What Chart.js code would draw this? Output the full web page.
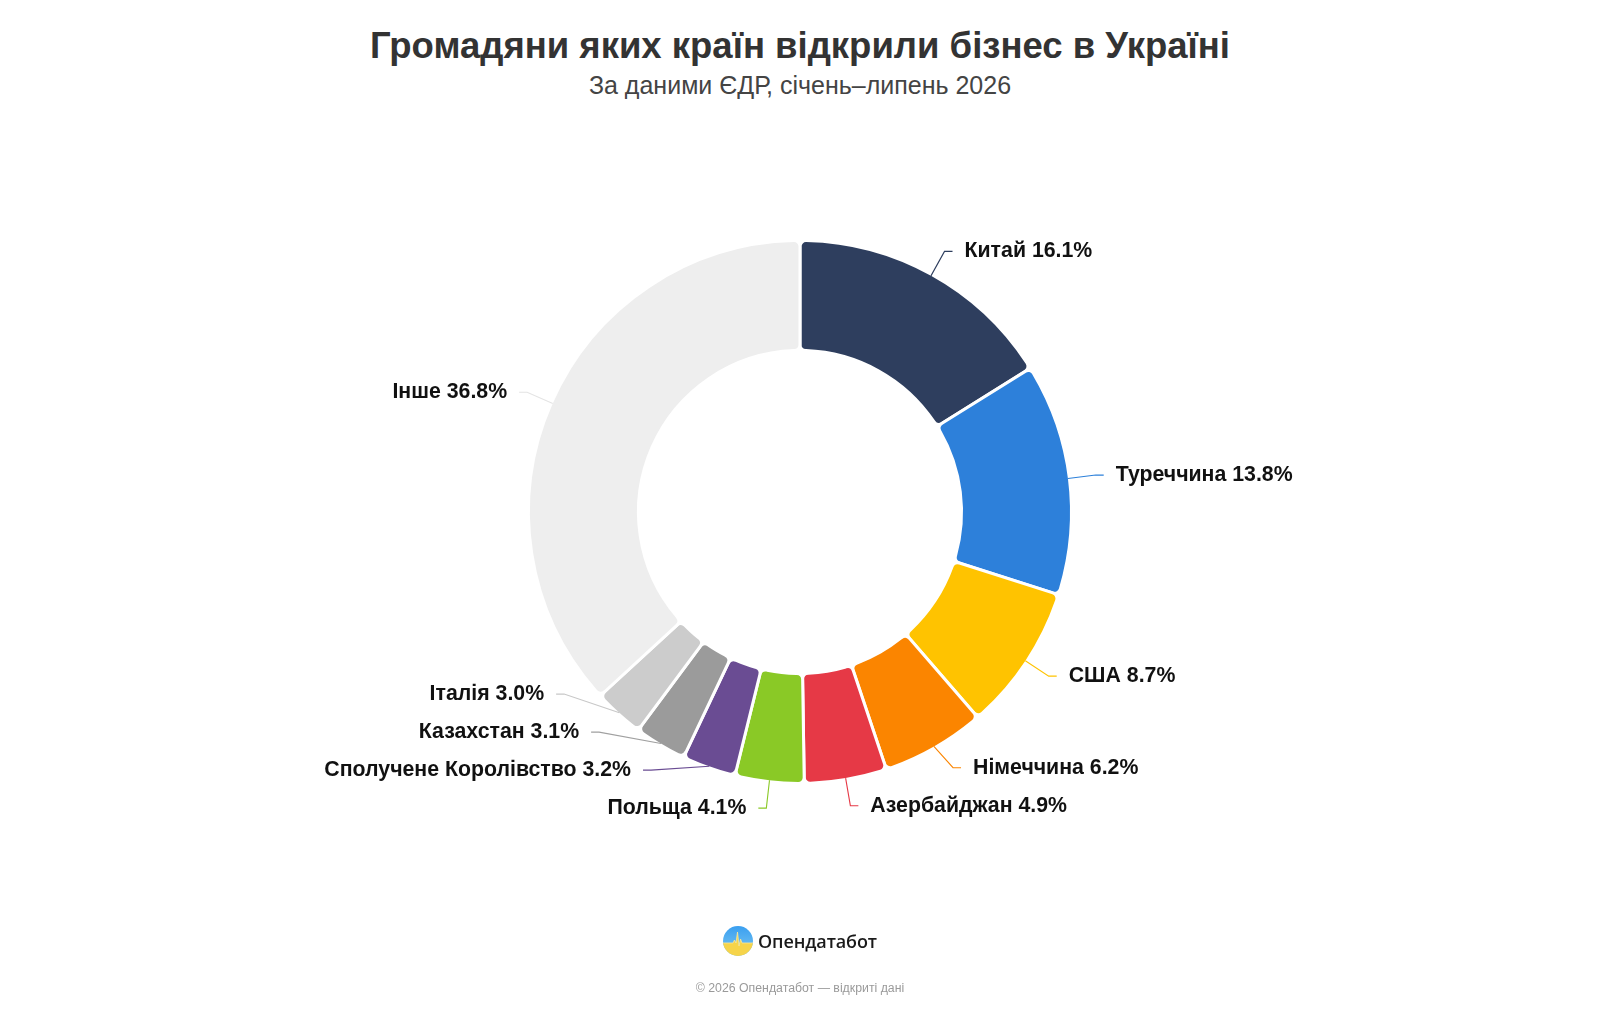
<!DOCTYPE html>
<html lang="uk">
<head>
<meta charset="utf-8">
<title>Громадяни яких країн відкрили бізнес в Україні</title>
<script src="https://cdn.jsdelivr.net/npm/chart.js@4.4.1/dist/chart.umd.min.js"></script>
<style>
  html, body { margin: 0; padding: 0; background: #fff; }
  body {
    width: 1600px; height: 1013px; position: relative; overflow: hidden;
    font-family: "Liberation Sans", Arial, Helvetica, sans-serif;
  }
  .title {
    position: absolute; top: 25px; left: 0; width: 100%;
    text-align: center; font-size: 36.5px; line-height: 42px; font-weight: bold; color: #333;
  }
  .subtitle {
    position: absolute; top: 70px; left: 0; width: 100%;
    text-align: center; font-size: 25px; line-height: 30px; color: #444;
  }
  .chart-wrap { position: absolute; left: 0; top: 0; width: 1600px; height: 1013px; }
  .brand {
    position: absolute; top: 926px; left: 0; width: 100%;
    display: flex; justify-content: center; align-items: center; gap: 5px;
  }
  .brand span {
    font-family: "Open Sans", "Noto Sans", sans-serif; font-weight: 600;
    font-size: 18px; color: #1a1a1a; letter-spacing: -0.1px;
  }
  .copy {
    position: absolute; top: 981px; left: 0; width: 100%;
    text-align: center; font-size: 12.3px; color: #9a9a9a;
  }
</style>
</head>
<body>
<div class="title">Громадяни яких країн відкрили бізнес в Україні</div>
<div class="subtitle">За даними ЄДР, січень–липень 2026</div>
<div class="chart-wrap"><canvas id="donut"></canvas></div>
<div class="brand">
  <svg width="30" height="30" viewBox="0 0 30 30">
    <defs>
      <clipPath id="c"><circle cx="15" cy="15" r="15"/></clipPath>
      <linearGradient id="sky" x1="0" y1="0" x2="0" y2="1">
        <stop offset="0" stop-color="#3a9ff0"/>
        <stop offset="1" stop-color="#7cc8f2"/>
      </linearGradient>
    </defs>
    <g clip-path="url(#c)">
      <rect width="30" height="30" fill="url(#sky)"/>
      <path d="M0 17 L10 17 L11.5 14 L13 17 L14.5 6 L16 20 L17.5 13 L19 17 L30 17 L30 30 L0 30 Z" fill="#f6d44a"/>
      <path d="M0 17 L10 17 L11.5 14 L13 17 L14.5 6 L16 20 L17.5 13 L19 17 L30 17" fill="none" stroke="#fbe79a" stroke-width="0.8"/>
    </g>
  </svg>
  <span>Опендатабот</span>
</div>
<div class="copy">© 2026 Опендатабот — відкриті дані</div>

<script>
// Дані діаграми
const countries = ['Китай', 'Туреччина', 'США', 'Німеччина', 'Азербайджан', 'Польща',
                   'Сполучене Королівство', 'Казахстан', 'Італія', 'Інше'];
const shares = [16.1, 13.8, 8.7, 6.2, 4.9, 4.1, 3.2, 3.1, 3.0, 36.8];
const colors = ['#2e3e5e', '#2d80da', '#ffc300', '#fb8500', '#e63946', '#8ac926',
                '#6a4c93', '#9b9b9b', '#cccccc', '#eeeeee'];
const lineColors = ['#2e3e5e', '#2d80da', '#ffc300', '#fb8500', '#e63946', '#8ac926',
                    '#6a4c93', '#a0a0a0', '#c8c8c8', '#e4e4e4'];

// Параметри підписів-виносок
const LINE_LEN = 28;   // радіальна частина лінії
const TAIL = 8;        // горизонтальна частина
const TEXT_GAP = 12;   // відступ до тексту
const MIN_GAP = 38;    // мінімальна відстань між підписами по вертикалі

const calloutLabels = {
  id: 'calloutLabels',
  afterDatasetsDraw(chart) {
    const ctx = chart.ctx;
    const meta = chart.getDatasetMeta(0);
    const left = [], right = [];

    meta.data.forEach((arc, i) => {
      const mid = (arc.startAngle + arc.endAngle) / 2;
      const cos = Math.cos(mid), sin = Math.sin(mid);
      const r = arc.outerRadius - 1.5;
      const item = {
        i, cos,
        ax: arc.x + cos * r, ay: arc.y + sin * r,
        y: arc.y + sin * (r + LINE_LEN),
        cx: arc.x, cy: arc.y, R: r + LINE_LEN
      };
      (cos >= 0 ? right : left).push(item);
    });

    // Розсуваємо підписи знизу вгору, щоб не перекривалися
    [left, right].forEach(side => {
      side.sort((a, b) => b.y - a.y);
      for (let k = 1; k < side.length; k++) {
        side[k].y = Math.min(side[k].y, side[k - 1].y - MIN_GAP);
      }
    });

    ctx.save();
    ctx.font = 'bold 21.3px "Liberation Sans", Arial, Helvetica, sans-serif';
    ctx.textBaseline = 'middle';
    ctx.lineWidth = 1.1;

    left.concat(right).forEach(it => {
      const dir = it.cos >= 0 ? 1 : -1;
      const dy = it.y - it.cy;
      const ex = it.cx + dir * Math.sqrt(Math.max(it.R * it.R - dy * dy, 0));
      const tx = ex + dir * TAIL;

      ctx.strokeStyle = lineColors[it.i];
      ctx.beginPath();
      ctx.moveTo(it.ax, it.ay);
      ctx.lineTo(ex, it.y);
      ctx.lineTo(tx, it.y);
      ctx.stroke();

      ctx.fillStyle = '#111';
      ctx.textAlign = dir > 0 ? 'left' : 'right';
      ctx.fillText(countries[it.i] + ' ' + shares[it.i].toFixed(1) + '%', tx + dir * TEXT_GAP, it.y);
    });
    ctx.restore();
  }
};

const ctx = document.getElementById('donut').getContext('2d');
const donut = new Chart(ctx, {
  type: 'doughnut',
  data: {
    labels: countries,
    datasets: [{
      data: shares,
      backgroundColor: colors,
      borderColor: '#ffffff',
      borderWidth: 3,
      borderRadius: 6,
      hoverOffset: 0
    }]
  },
  options: {
    responsive: true,
    maintainAspectRatio: false,
    animation: false,
    cutout: '59.5%',
    layout: { padding: { top: 239, bottom: 228, left: 0, right: 0 } },
    plugins: {
      legend: { display: false },
      tooltip: { enabled: false }
    }
  },
  plugins: [calloutLabels]
});
</script>
</body>
</html>
